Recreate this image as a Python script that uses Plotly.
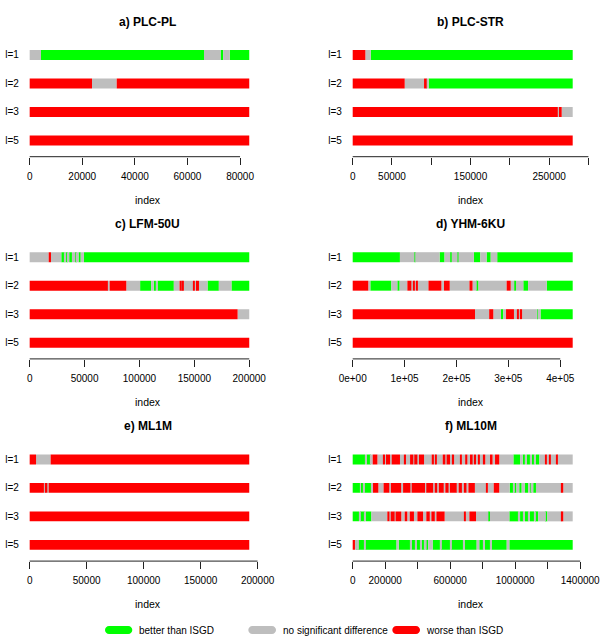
import plotly.graph_objects as go

# ---------------- data ----------------
levels = ["l=1", "l=2", "l=3", "l=5"]
status_codes = ["G", "N", "R"]
status_names = ["better than ISGD", "no significant difference", "worse than ISGD"]
status_colors = ["#00FF00", "#BEBEBE", "#FF0000"]

panel_titles = ["a) PLC-PL", "b) PLC-STR", "c) LFM-50U", "d) YHM-6KU", "e) ML1M", "f) ML10M"]

# a) PLC-PL
a_l1_breaks = [0, 4300, 66300, 72600, 73600, 76100, 83500]
a_l1_codes = "NGNGNG"
a_l2_breaks = [0, 23700, 33100, 83500]
a_l2_codes = "RNR"
a_l3_breaks = [0, 83500]
a_l3_codes = "R"
a_l5_breaks = [0, 83500]
a_l5_codes = "R"
a_tickvals = [0, 20000, 40000, 60000, 80000]
a_ticktext = ["0", "20000", "40000", "60000", "80000"]

# b) PLC-STR
b_l1_breaks = [0, 16100, 22900, 280000]
b_l1_codes = "RNG"
b_l2_breaks = [0, 66200, 90800, 94200, 96700, 280000]
b_l2_codes = "RNRNG"
b_l3_breaks = [0, 261000, 262500, 266000, 280000]
b_l3_codes = "RNRN"
b_l5_breaks = [0, 280000]
b_l5_codes = "R"
b_tickvals = [0, 50000, 100000, 150000, 200000, 250000, 300000]
b_ticktext = ["0", "50000", "", "150000", "", "250000", ""]

# c) LFM-50U
c_l1_breaks = [0, 17300, 19400, 28800, 31800, 32700, 34800, 36000, 38500, 41500,
               43000, 44500, 46500, 49400, 200000]
c_l1_codes = "NRNGNGNGNGNGNG"
c_l2_breaks = [0, 71200, 72800, 88000, 100600, 110600, 113000, 115000, 116500, 131300,
               136500, 138500, 139300, 140300, 149000, 150500, 151500, 154200, 162000,
               172300, 183800, 200000]
c_l2_codes = "RNRNGNGNGNRNRNRNRNGNG"
c_l3_breaks = [0, 189400, 200000]
c_l3_codes = "RN"
c_l5_breaks = [0, 200000]
c_l5_codes = "R"
c_tickvals = [0, 50000, 100000, 150000, 200000]
c_ticktext = ["0", "50000", "100000", "150000", "200000"]

# d) YHM-6KU
d_l1_breaks = [0, 91000, 119000, 120500, 167500, 177000, 188000, 191000, 202000, 204000,
               233500, 246000, 258000, 266000, 278500, 424000]
d_l1_codes = "GNGNGNGNGNGNGNG"
d_l2_breaks = [0, 30000, 34000, 74500, 86000, 90500, 105300, 113000, 116800, 118700,
               122600, 124500, 146000, 171000, 176000, 187000, 225000, 231000, 239000,
               242500, 296700, 304500, 311400, 314700, 328800, 338000, 374000, 424000]
d_l2_codes = "RNGNGNRNRNRNRNRNRNGNRNGNGNG"
d_l3_breaks = [0, 235700, 263000, 271000, 285500, 290200, 295500, 310800, 317000, 318500,
               323000, 326500, 355000, 356500, 362000, 424000]
d_l3_codes = "RNRNGNRNRNRNGNG"
d_l5_breaks = [0, 424000]
d_l5_codes = "R"
d_tickvals = [0, 100000, 200000, 300000, 400000]
d_ticktext = ["0e+00", "1e+05", "2e+05", "3e+05", "4e+05"]

# e) ML1M
e_l1_breaks = [0, 5600, 18400, 192700]
e_l1_codes = "RNR"
e_l2_breaks = [0, 12500, 13800, 15500, 16700, 192700]
e_l2_codes = "RNRNR"
e_l3_breaks = [0, 192700]
e_l3_codes = "R"
e_l5_breaks = [0, 192700]
e_l5_codes = "R"
e_tickvals = [0, 50000, 100000, 150000, 200000]
e_ticktext = ["0", "50000", "100000", "150000", "200000"]

# f) ML10M
f_l1_breaks = [0, 76000, 86000, 111000, 123000, 152000, 189000, 199000, 205000, 230000,
               240000, 291000, 316000, 328000, 353000, 373000, 379000, 398000, 408000,
               439000, 486000, 500000, 507000, 517000, 554000, 570000, 578000, 599000,
               615000, 624000, 660000, 671000, 692000, 706000, 722000, 738000, 747000,
               759000, 773000, 783000, 804000, 816000, 845000, 861000, 876000, 902000,
               989000, 1030000, 1046000, 1060000, 1071000, 1091000, 1103000, 1118000,
               1128000, 1149000, 1183000, 1194000, 1210000, 1218000, 1251000, 1257000,
               1354000]
f_l1_codes = "GNGN" + "RNRNRNRNRNRNRNRNRNRNRNRNRNRNRNRNRNRNRNRNRN" + "GNGNGNGNGN" + "RNRNRN"
f_l2_breaks = [0, 45000, 50000, 66000, 72000, 115000, 125000, 158000, 190000, 225000,
               235000, 298000, 310000, 355000, 363000, 445000, 453000, 495000, 505000,
               520000, 530000, 560000, 570000, 590000, 598000, 640000, 652000, 672000,
               684000, 700000, 712000, 752000, 822000, 832000, 868000, 902000, 966000,
               988000, 998000, 1008000, 1025000, 1040000, 1060000, 1080000, 1093000,
               1100000, 1111000, 1128000, 1286000, 1296000, 1354000]
f_l2_codes = "GNGNGN" + "RNRNRNRNRNRNRNRNRNRNRNRNRNRNRN" + "GNGNGNGNGNG" + "NRN"
f_l3_breaks = [0, 39000, 45000, 74000, 80000, 115000, 213000, 226000, 234000, 258000,
               264000, 299000, 320000, 336000, 351000, 377000, 398000, 433000, 453000,
               474000, 484000, 505000, 515000, 566000, 687000, 695000, 718000, 759000,
               835000, 845000, 964000, 1019000, 1030000, 1050000, 1060000, 1081000,
               1091000, 1116000, 1122000, 1142000, 1189000, 1198000, 1286000, 1296000,
               1354000]
f_l3_codes = "GNGNGN" + "RNRNRNRNRNRNRNRNRNRNRN" + "GN" + "GNGNGNGNGN" + "GN" + "RN"
f_l5_breaks = [0, 14000, 20000, 28000, 33000, 72000, 77000, 270000, 283000, 353000,
               363000, 385000, 393000, 415000, 425000, 443000, 455000, 465000, 492000,
               537000, 543000, 600000, 606000, 681000, 689000, 763000, 779000, 804000,
               814000, 845000, 855000, 948000, 964000, 1354000]
f_l5_codes = "RN" + "GNGNGNGNGNGNGNGNGNGNGNGNGNGNGN" + "G"
f_tickvals = [0, 200000, 400000, 600000, 800000, 1000000, 1200000, 1400000]
f_ticktext = ["0", "200000", "", "600000", "", "1000000", "", "1400000"]

panels = [
    dict(title=panel_titles[0], runs=[(a_l1_breaks, a_l1_codes), (a_l2_breaks, a_l2_codes),
                                      (a_l3_breaks, a_l3_codes), (a_l5_breaks, a_l5_codes)],
         tickvals=a_tickvals, ticktext=a_ticktext),
    dict(title=panel_titles[1], runs=[(b_l1_breaks, b_l1_codes), (b_l2_breaks, b_l2_codes),
                                      (b_l3_breaks, b_l3_codes), (b_l5_breaks, b_l5_codes)],
         tickvals=b_tickvals, ticktext=b_ticktext),
    dict(title=panel_titles[2], runs=[(c_l1_breaks, c_l1_codes), (c_l2_breaks, c_l2_codes),
                                      (c_l3_breaks, c_l3_codes), (c_l5_breaks, c_l5_codes)],
         tickvals=c_tickvals, ticktext=c_ticktext),
    dict(title=panel_titles[3], runs=[(d_l1_breaks, d_l1_codes), (d_l2_breaks, d_l2_codes),
                                      (d_l3_breaks, d_l3_codes), (d_l5_breaks, d_l5_codes)],
         tickvals=d_tickvals, ticktext=d_ticktext),
    dict(title=panel_titles[4], runs=[(e_l1_breaks, e_l1_codes), (e_l2_breaks, e_l2_codes),
                                      (e_l3_breaks, e_l3_codes), (e_l5_breaks, e_l5_codes)],
         tickvals=e_tickvals, ticktext=e_ticktext),
    dict(title=panel_titles[5], runs=[(f_l1_breaks, f_l1_codes), (f_l2_breaks, f_l2_codes),
                                      (f_l3_breaks, f_l3_codes), (f_l5_breaks, f_l5_codes)],
         tickvals=f_tickvals, ticktext=f_ticktext),
]

# ---------------- layout geometry (pixels) ----------------
W, H = 607, 640
FONT = "Liberation Sans, Arial, Helvetica, sans-serif"
col_dom_px = [(20.9, 274.5), (343.9, 598.0)]
row_step = 202.2
row_top_px, row_bot_px = 40.75, 156.7
title_y_px, index_y_px = 21.7, 200.0
x_lo_frac, x_hi_frac = -0.04, 1.115


def px_x(p):
    return p / W


def px_y(p):
    return 1 - p / H


fig = go.Figure()
layout = dict(
    width=W, height=H, autosize=False,
    margin=dict(l=0, r=0, t=0, b=0, pad=0),
    paper_bgcolor="white", plot_bgcolor="white",
    barmode="overlay", showlegend=False,
    font=dict(family=FONT, size=10, color="black"),
)
shapes, annotations = [], []

for i, p in enumerate(panels):
    row, col = divmod(i, 2)
    sfx = "" if i == 0 else str(i + 1)
    xa, ya = "x" + sfx, "y" + sfx
    n_total = max(br[-1] for br, _ in p["runs"])

    for code, name, color in zip(status_codes, status_names, status_colors):
        ys, xs, bases = [], [], []
        for lvl, (br, cd) in zip(levels, p["runs"]):
            assert len(br) == len(cd) + 1, (p["title"], lvl, len(br), len(cd))
            for k, c in enumerate(cd):
                if c == code:
                    ys.append(lvl)
                    bases.append(br[k])
                    xs.append(br[k + 1] - br[k])
        fig.add_trace(go.Bar(
            y=ys, x=xs, base=bases, orientation="h", width=0.35,
            marker=dict(color=color, line=dict(width=0)),
            name=name, legendgroup=code, showlegend=False,
            xaxis=xa, yaxis=ya, hoverinfo="skip",
        ))

    d0, d1 = col_dom_px[col]
    top = row_top_px + row * row_step
    bot = row_bot_px + row * row_step
    layout["xaxis" + sfx] = dict(
        domain=[px_x(d0), px_x(d1)], anchor=ya, automargin=False,
        range=[x_lo_frac * n_total, x_hi_frac * n_total],
        tickmode="array", tickvals=p["tickvals"], ticktext=p["ticktext"],
        ticks="outside", ticklen=7, tickwidth=1, tickcolor="#222222",
        showline=False, showgrid=False, zeroline=False,
        tickfont=dict(size=10, color="black"), ticklabelstandoff=3,
        fixedrange=True,
    )
    layout["yaxis" + sfx] = dict(
        domain=[px_y(bot), px_y(top)], anchor=xa, automargin=False,
        type="category", categoryorder="array", categoryarray=levels[::-1],
        range=[-0.57, 3.5],
        ticks="", showline=False, showgrid=False, zeroline=False,
        tickfont=dict(size=10, color="black"), ticklabelstandoff=1,
        fixedrange=True,
    )
    # axis line from first to last tick (R style)
    shapes.append(dict(type="line", xref=xa, yref=ya + " domain",
                       x0=p["tickvals"][0], x1=p["tickvals"][-1], y0=0, y1=0,
                       line=dict(color="#222222", width=1)))
    cx = (d0 + d1) / 2
    annotations.append(dict(text=p["title"], xref="paper", yref="paper",
                            x=px_x(cx), y=px_y(title_y_px + row * row_step),
                            xanchor="center", yanchor="middle", showarrow=False,
                            font=dict(size=12, weight="bold", color="black")))
    annotations.append(dict(text="index", xref="paper", yref="paper",
                            x=px_x(cx), y=px_y(index_y_px + row * row_step),
                            xanchor="center", yanchor="middle", showarrow=False,
                            font=dict(size=10.5, color="black")))

# ---------------- legend (drawn manually, R-style pills) ----------------
legend_y_px = 630
pill_x_px = [(105, 132.3), (248.3, 276), (392.3, 420)]
text_x_px = [136.7, 280.7, 424.3]


def pill_path(x0, x1, yc, h):
    r = h / 2.0
    k = 0.5523 * r
    pts = [
        ("M", [(x0 + r, yc - r)]),
        ("L", [(x1 - r, yc - r)]),
        ("C", [(x1 - r + k, yc - r), (x1, yc - k), (x1, yc)]),
        ("C", [(x1, yc + k), (x1 - r + k, yc + r), (x1 - r, yc + r)]),
        ("L", [(x0 + r, yc + r)]),
        ("C", [(x0 + r - k, yc + r), (x0, yc + k), (x0, yc)]),
        ("C", [(x0, yc - k), (x0 + r - k, yc - r), (x0 + r, yc - r)]),
    ]
    s = ""
    for cmd, pl in pts:
        s += cmd + " " + " ".join("%.5f,%.5f" % (px_x(a), px_y(b)) for a, b in pl) + " "
    return s + "Z"


for (x0, x1), tx, name, color in zip(pill_x_px, text_x_px, status_names, status_colors):
    shapes.append(dict(type="path", xref="paper", yref="paper",
                       path=pill_path(x0, x1, legend_y_px, 8),
                       fillcolor=color, line=dict(width=0)))
    annotations.append(dict(text=name, xref="paper", yref="paper",
                            x=px_x(tx), y=px_y(legend_y_px),
                            xanchor="left", yanchor="middle", showarrow=False,
                            font=dict(size=10, color="black")))

layout["shapes"] = shapes
layout["annotations"] = annotations
fig.update_layout(**layout)
fig.write_html("out.html")
